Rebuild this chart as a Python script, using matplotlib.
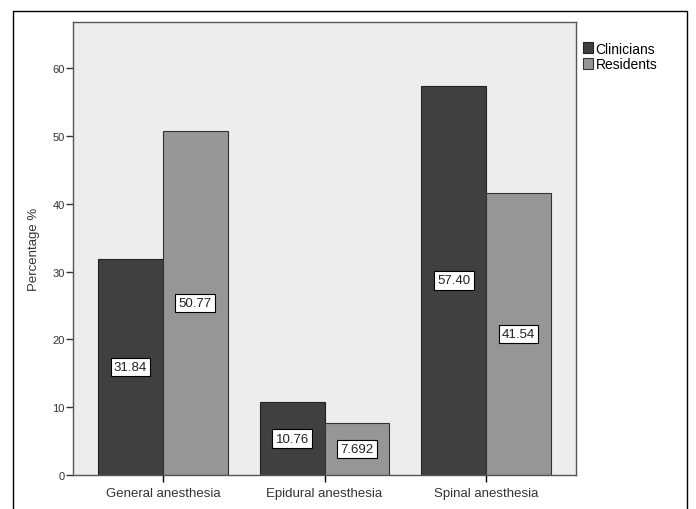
import numpy as np
import matplotlib
matplotlib.use("Agg")
import matplotlib.pyplot as plt
from matplotlib.lines import Line2D

# data
categories = ["General anesthesia", "Epidural anesthesia", "Spinal anesthesia"]
clinicians = [31.84, 10.76, 57.40]
residents = [50.77, 7.692, 41.54]
clin_labels = ["31.84", "10.76", "57.40"]
res_labels = ["50.77", "7.692", "41.54"]
series_names = ["Clinicians", "Residents"]

plt.rcParams["font.family"] = ["Liberation Sans", "DejaVu Sans"]

fig = plt.figure(figsize=(6.96, 5.10), dpi=100)
ax = fig.add_axes([73 / 696, 1 - 476 / 510, (576 - 73) / 696, (476 - 23) / 510])
ax.set_facecolor("#ededed")

x = np.arange(len(categories))
w = 0.4
b1 = ax.bar(x - w / 2, clinicians, w, color="#404040", edgecolor="#222222",
            linewidth=0.8, label=series_names[0])
b2 = ax.bar(x + w / 2, residents, w, color="#969696", edgecolor="#333333",
            linewidth=0.8, label=series_names[1])

box = dict(boxstyle="square,pad=0.25", facecolor="white", edgecolor="black", linewidth=0.8)
for bars, labs in ((b1, clin_labels), (b2, res_labels)):
    for rect, lab in zip(bars, labs):
        ax.text(rect.get_x() + rect.get_width() / 2, rect.get_height() / 2, lab,
                ha="center", va="center", fontsize=9.5, color="#222222", bbox=box)

ax.set_xlim(-0.556, 2.556)
ax.set_ylim(0, 66.8)
ax.set_yticks([0, 10, 20, 30, 40, 50, 60])
ax.set_xticks(x)
ax.set_xticklabels(categories, fontsize=9.5, color="#333333")
ax.tick_params(axis="y", labelsize=8, colors="#333333", length=5, width=1, pad=1)
ax.tick_params(axis="x", length=5, width=1, pad=4)
ax.set_ylabel("Percentage %", fontsize=9.5, color="#333333", labelpad=9)
for s in ax.spines.values():
    s.set_color("#555555")
    s.set_linewidth(1.0)

fig.legend(handles=[b1, b2], labels=series_names, loc="upper left",
           bbox_to_anchor=(577 / 696, 1 - 37 / 510), frameon=False, fontsize=10,
           handlelength=0.75, handleheight=0.85, handletextpad=0.2,
           labelspacing=0.1, borderaxespad=0)

# outer frame, open at the bottom
fx0, fx1, fy1 = 13 / 696, 687 / 696, 1 - 12 / 510
fig.add_artist(Line2D([fx0, fx0, fx1, fx1], [0, fy1, fy1, 0],
                      transform=fig.transFigure, color="black", linewidth=1.0))

fig.savefig("out.png", dpi=100)
